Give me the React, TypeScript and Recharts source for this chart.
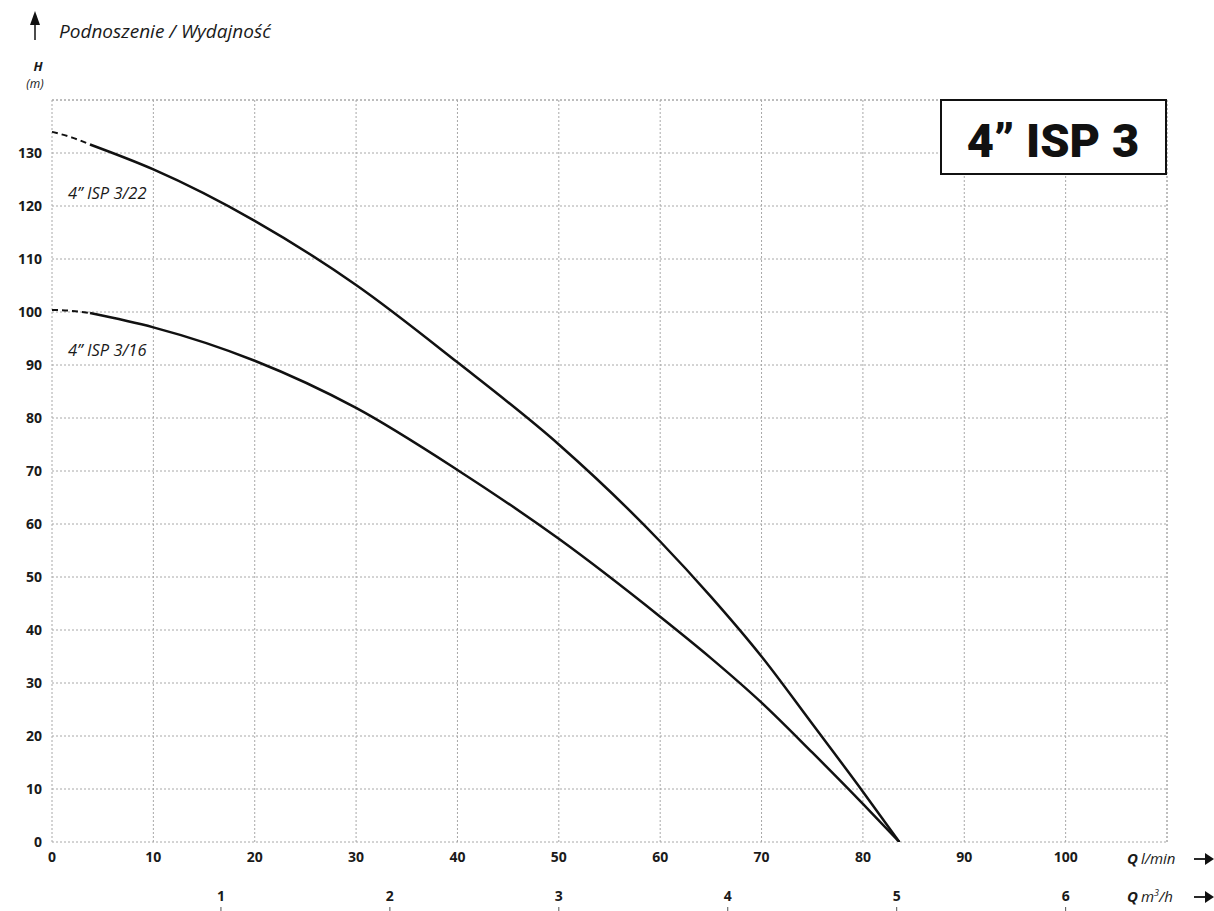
import { LineChart, Line, XAxis, YAxis, CartesianGrid, ReferenceLine } from "recharts";

// Q in l/min, H in m
const isp322Dashed = [
  { q: 0, h: 134 },
  { q: 2, h: 132.9 },
  { q: 3.75, h: 131.6 },
];
const isp322Solid = [
  { q: 3.75, h: 131.6 },
  { q: 10, h: 126.9 },
  { q: 20, h: 117.2 },
  { q: 30, h: 105.1 },
  { q: 40, h: 90.5 },
  { q: 50, h: 75.0 },
  { q: 60, h: 56.7 },
  { q: 65, h: 46.3 },
  { q: 70, h: 35.0 },
  { q: 75, h: 22.3 },
  { q: 80, h: 9.5 },
  { q: 83.6, h: 0 },
];
const isp316Dashed = [
  { q: 0, h: 100.4 },
  { q: 2, h: 100.2 },
  { q: 3.75, h: 99.8 },
];
const isp316Solid = [
  { q: 3.75, h: 99.8 },
  { q: 10, h: 97.1 },
  { q: 20, h: 90.8 },
  { q: 30, h: 81.9 },
  { q: 40, h: 70.2 },
  { q: 50, h: 57.2 },
  { q: 60, h: 42.5 },
  { q: 65, h: 34.7 },
  { q: 70, h: 26.3 },
  { q: 75, h: 16.9 },
  { q: 80, h: 7.2 },
  { q: 83.6, h: 0 },
];

const lminTicks = [0, 10, 20, 30, 40, 50, 60, 70, 80, 90, 100];
const m3hTicks = [1, 2, 3, 4, 5, 6];
const hTicks = [0, 10, 20, 30, 40, 50, 60, 70, 80, 90, 100, 110, 120, 130];

// 1 l/min = 0.06 m3/h
const M3H_PER_LMIN = 0.06;
const m3hTickPositions = m3hTicks.map((v) => v / M3H_PER_LMIN);

const FONT = "'Open Sans', sans-serif";
const gridColor = "#a8a8a8";

const renderM3Tick = ({ x, y, payload }: any) => (
  <g key={`m3-${payload.value}`}>
    <text x={x} y={y + 29} textAnchor="middle" fontFamily={FONT} fontWeight={700} fontSize={14} fill="#1a1a1a">
      {Math.round(payload.value * M3H_PER_LMIN)}
    </text>
    <line x1={x} x2={x} y1={y + 35} y2={y + 39} stroke="#555" strokeWidth={1} />
  </g>
);

const App = () => {
  return (
    <div style={{ position: "absolute", left: 0, top: 0, width: 1214, height: 911, background: "#fff" }}>
      <LineChart width={1214} height={911} margin={{ top: 100, right: 47, left: 0, bottom: 0 }}>
        <CartesianGrid xAxisId="lmin" stroke={gridColor} strokeDasharray="2 2" />
        <XAxis
          xAxisId="lmin"
          dataKey="q"
          type="number"
          domain={[0, 110]}
          ticks={lminTicks}
          axisLine={false}
          tickLine={false}
          tickSize={0}
          tickMargin={10}
          height={30}
          interval={0}
          allowDataOverflow
          tick={{ fontFamily: FONT, fontWeight: 700, fontSize: 14, fill: "#1a1a1a" }}
        />
        <XAxis
          xAxisId="m3h"
          dataKey="q"
          type="number"
          domain={[0, 110]}
          ticks={m3hTickPositions}
          axisLine={false}
          tickLine={false}
          tickSize={0}
          tickMargin={0}
          height={39}
          interval={0}
          allowDataOverflow
          tick={renderM3Tick}
        />
        <YAxis
          type="number"
          domain={[0, 140]}
          ticks={hTicks}
          axisLine={false}
          tickLine={false}
          tickSize={0}
          tickMargin={10}
          width={52}
          interval={0}
          allowDataOverflow
          tick={{ fontFamily: FONT, fontWeight: 700, fontSize: 14, fill: "#1a1a1a" }}
        />
        <ReferenceLine xAxisId="lmin" y={140} stroke={gridColor} strokeDasharray="2 2" />
        <ReferenceLine xAxisId="lmin" x={110} stroke={gridColor} strokeDasharray="2 2" />
        {/* the m3/h axis shares the l/min scale, so dashed parts can live on it */}
        <Line xAxisId="m3h" data={isp322Dashed} dataKey="h" type="monotone" stroke="#111" strokeWidth={2} strokeDasharray="6 4" dot={false} isAnimationActive={false} />
        <Line xAxisId="lmin" data={isp322Solid} dataKey="h" type="monotone" stroke="#111" strokeWidth={2.5} dot={false} isAnimationActive={false} />
        <Line xAxisId="m3h" data={isp316Dashed} dataKey="h" type="monotone" stroke="#111" strokeWidth={2} strokeDasharray="6 4" dot={false} isAnimationActive={false} />
        <Line xAxisId="lmin" data={isp316Solid} dataKey="h" type="monotone" stroke="#111" strokeWidth={2.5} dot={false} isAnimationActive={false} />
      </LineChart>

      <svg width={1214} height={911} style={{ position: "absolute", left: 0, top: 0, pointerEvents: "none" }}>
        {/* vertical axis title */}
        <polygon points="35,11 30,25 40,25" fill="#111" />
        <line x1={35} x2={35} y1={22} y2={40} stroke="#111" strokeWidth={1.5} />
        <text x={59} y={38} fontFamily={FONT} fontStyle="italic" fontSize={19} fill="#1a1a1a">
          Podnoszenie / Wydajność
        </text>
        <text x={38} y={71} textAnchor="middle" fontFamily={FONT} fontStyle="italic" fontWeight={700} fontSize={13} fill="#1a1a1a">
          H
        </text>
        <text x={35} y={88} textAnchor="middle" fontFamily={FONT} fontStyle="italic" fontSize={12} fill="#1a1a1a">
          (m)
        </text>

        {/* title box */}
        <rect x={941} y={100} width={225} height={74} fill="#fff" stroke="#111" strokeWidth={2} />
        <text x={1053} y={157} textAnchor="middle" fontFamily="Roboto, Inter, sans-serif" fontWeight={900} fontSize={47} fill="#111">
          4” ISP 3
        </text>

        {/* curve labels */}
        <text x={68} y={199} fontFamily={FONT} fontStyle="italic" fontSize={16.5} fill="#1a1a1a">
          4” ISP 3/22
        </text>
        <text x={68} y={356} fontFamily={FONT} fontStyle="italic" fontSize={16.5} fill="#1a1a1a">
          4” ISP 3/16
        </text>

        {/* x axis units */}
        <text x={1127} y={864} fontFamily={FONT} fontStyle="italic" fontSize={15} fill="#1a1a1a">
          <tspan fontWeight={700}>Q</tspan>
          <tspan dx={3}>l/min</tspan>
        </text>
        <line x1={1194} x2={1210} y1={859} y2={859} stroke="#111" strokeWidth={1.8} />
        <polygon points="1214,859 1205,853 1205,865" fill="#111" />
        <text x={1127} y={902} fontFamily={FONT} fontStyle="italic" fontSize={15} fill="#1a1a1a">
          <tspan fontWeight={700}>Q</tspan>
          <tspan dx={3}>m</tspan>
          <tspan dy={-6} fontSize={9}>3</tspan>
          <tspan dy={6}>/h</tspan>
        </text>
        <line x1={1194} x2={1210} y1={897} y2={897} stroke="#111" strokeWidth={1.8} />
        <polygon points="1214,897 1205,891 1205,903" fill="#111" />
      </svg>
    </div>
  );
};

export default App;
